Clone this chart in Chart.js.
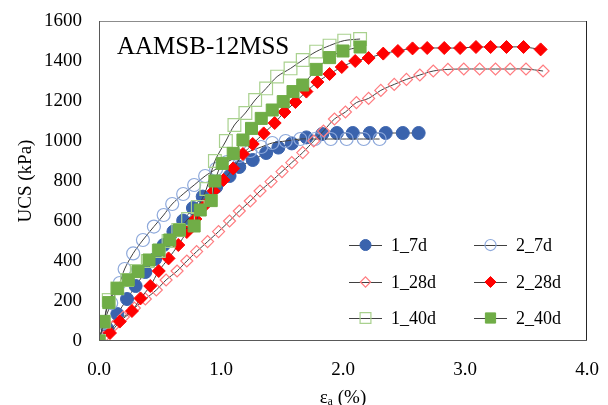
<!DOCTYPE html>
<html lang="en">
<head>
<meta charset="UTF-8">
<title>AAMSB-12MSS</title>
<script src="https://cdn.jsdelivr.net/npm/chart.js"></script>
<style>
  body { margin: 0; background: #fff; }
  canvas { display: block; }
</style>
</head>
<body>
<canvas id="ucsChart" width="608" height="405"></canvas>
<script>
// strain (%) and UCS (kPa)
const x_1_7d = [0, 0.07, 0.15, 0.23, 0.30, 0.38, 0.46, 0.53, 0.61, 0.69, 0.77, 0.85, 0.96, 1.07, 1.15, 1.26, 1.37, 1.47, 1.58, 1.70, 1.83, 1.95, 2.08, 2.22, 2.35, 2.49, 2.62];
const y_1_7d = [0, 60, 135, 210, 275, 345, 410, 480, 547, 602, 665, 722, 770, 825, 870, 905, 940, 967, 988, 1018, 1035, 1040, 1040, 1040, 1040, 1040, 1040];

const x_2_7d = [0, 0.04, 0.10, 0.17, 0.21, 0.28, 0.36, 0.45, 0.53, 0.60, 0.69, 0.78, 0.87, 0.96, 1.05, 1.15, 1.24, 1.33, 1.42, 1.53, 1.65, 1.77, 1.90, 2.03, 2.17, 2.30];
const y_2_7d = [0, 90, 190, 290, 360, 438, 505, 572, 630, 685, 735, 780, 825, 860, 895, 925, 950, 970, 990, 1000, 1010, 1010, 1010, 1010, 1010, 1010];

const x_1_28d = [0, 0.04, 0.12, 0.20, 0.29, 0.38, 0.47, 0.55, 0.64, 0.72, 0.80, 0.89, 0.98, 1.07, 1.15, 1.24, 1.32, 1.41, 1.50, 1.58, 1.67, 1.76, 1.84, 1.93, 2.02, 2.11, 2.21, 2.31, 2.42, 2.52, 2.63, 2.74, 2.86, 2.99, 3.12, 3.25, 3.37, 3.50, 3.64];
const y_1_28d = [0, 20, 75, 120, 165, 210, 255, 305, 350, 400, 447, 497, 547, 600, 650, 700, 750, 797, 847, 892, 942, 1000, 1050, 1110, 1145, 1192, 1213, 1253, 1283, 1308, 1330, 1350, 1358, 1360, 1360, 1360, 1360, 1360, 1350];

const x_2_28d = [0, 0.09, 0.17, 0.27, 0.34, 0.42, 0.49, 0.57, 0.65, 0.72, 0.79, 0.87, 0.94, 1.02, 1.10, 1.18, 1.26, 1.35, 1.44, 1.52, 1.61, 1.70, 1.79, 1.89, 1.99, 2.10, 2.21, 2.33, 2.45, 2.57, 2.69, 2.83, 2.96, 3.09, 3.21, 3.34, 3.48, 3.62];
const y_2_28d = [0, 40, 97, 150, 213, 275, 350, 413, 480, 545, 610, 680, 750, 805, 863, 935, 985, 1038, 1090, 1145, 1195, 1247, 1295, 1335, 1370, 1400, 1415, 1437, 1450, 1463, 1465, 1465, 1465, 1470, 1470, 1470, 1470, 1458];

const x_1_40d = [0, 0.04, 0.08, 0.15, 0.23, 0.31, 0.40, 0.49, 0.57, 0.65, 0.73, 0.81, 0.88, 0.95, 1.04, 1.11, 1.20, 1.28, 1.37, 1.46, 1.57, 1.67, 1.78, 1.89, 2.01, 2.14];
const y_1_40d = [0, 97, 205, 263, 305, 350, 400, 450, 500, 555, 610, 670, 760, 900, 1000, 1080, 1140, 1205, 1263, 1322, 1363, 1405, 1447, 1477, 1502, 1510];

const x_2_40d = [0, 0.04, 0.08, 0.15, 0.24, 0.32, 0.41, 0.49, 0.58, 0.66, 0.78, 0.83, 0.92, 0.95, 1.01, 1.10, 1.18, 1.25, 1.33, 1.42, 1.51, 1.59, 1.67, 1.78, 1.89, 2.00, 2.14];
const y_2_40d = [0, 97, 192, 263, 305, 347, 405, 455, 505, 555, 575, 655, 702, 800, 888, 938, 1005, 1063, 1113, 1155, 1197, 1247, 1280, 1358, 1417, 1450, 1470];

const seriesNames = ['1_7d', '2_7d', '1_28d', '2_28d', '1_40d', '2_40d'];
const xTicks = [0, 1, 2, 3, 4];
const yTicks = [0, 200, 400, 600, 800, 1000, 1200, 1400, 1600];

const serif = 'Liberation Serif, Times New Roman, serif';

function pts(xs, ys) {
    return xs.map((x, i) => ({ x: x, y: ys[i] }));
}

function series(label, xs, ys, style, order) {
    return Object.assign({
        label: label,
        data: pts(xs, ys),
        showLine: true,
        borderColor: '#404040',
        borderWidth: 1,
        tension: 0.3,
        order: order
    }, style);
}

const datasets = [
    series(seriesNames[0], x_1_7d, y_1_7d, { pointStyle: 'circle', pointRadius: 6.5, pointBackgroundColor: '#3A63AD', pointBorderColor: '#3A63AD', pointBorderWidth: 1 }, 6),
    series(seriesNames[1], x_2_7d, y_2_7d, { pointStyle: 'circle', pointRadius: 6.5, pointBackgroundColor: 'rgba(0,0,0,0)', pointBorderColor: '#8EA9DB', pointBorderWidth: 1.2 }, 5),
    series(seriesNames[2], x_1_28d, y_1_28d, { pointStyle: 'rectRot', pointRadius: 6, pointBackgroundColor: 'rgba(0,0,0,0)', pointBorderColor: '#FF7C80', pointBorderWidth: 1.2 }, 4),
    series(seriesNames[3], x_2_28d, y_2_28d, { pointStyle: 'rectRot', pointRadius: 6.5, pointBackgroundColor: '#FF0000', pointBorderColor: '#FF0000', pointBorderWidth: 1 }, 3),
    series(seriesNames[4], x_1_40d, y_1_40d, { pointStyle: 'rect', pointRadius: 9, pointBackgroundColor: 'rgba(0,0,0,0)', pointBorderColor: '#A9D18E', pointBorderWidth: 1.2 }, 2),
    series(seriesNames[5], x_2_40d, y_2_40d, { pointStyle: 'rect', pointRadius: 8.5, pointBackgroundColor: '#70AD47', pointBorderColor: '#70AD47', pointBorderWidth: 1 }, 1)
];

function drawMarker(ctx, style, r, x, y) {
    if (style === 'circle') {
        ctx.arc(x, y, r, 0, Math.PI * 2);
    } else if (style === 'rectRot') {
        ctx.moveTo(x - r, y);
        ctx.lineTo(x, y - r);
        ctx.lineTo(x + r, y);
        ctx.lineTo(x, y + r);
        ctx.closePath();
    } else {
        const s = r * Math.SQRT1_2;
        ctx.rect(x - s, y - s, 2 * s, 2 * s);
    }
}

// plot frame, title text and the two-column legend inside the plot
const decor = {
    id: 'decor',
    afterDraw(chart) {
        const ctx = chart.ctx;
        const a = chart.chartArea;
        ctx.save();
        ctx.lineWidth = 1;
        ctx.strokeStyle = '#8c8c8c';
        ctx.beginPath();
        ctx.moveTo(a.left, a.top + 0.5);
        ctx.lineTo(a.right, a.top + 0.5);
        ctx.stroke();
        ctx.strokeStyle = '#262626';
        ctx.beginPath();
        ctx.moveTo(a.right - 0.5, a.top);
        ctx.lineTo(a.right - 0.5, a.bottom);
        ctx.stroke();
        ctx.strokeStyle = '#595959';
        ctx.beginPath();
        ctx.moveTo(a.left + 0.5, a.top);
        ctx.lineTo(a.left + 0.5, a.bottom - 0.5);
        ctx.lineTo(a.right, a.bottom - 0.5);
        ctx.stroke();

        ctx.fillStyle = '#000';
        ctx.font = '25px ' + serif;
        ctx.textBaseline = 'alphabetic';
        ctx.textAlign = 'left';
        ctx.fillText('AAMSB-12MSS', 117, 54);

        const cols = [349, 474];
        const rows = [245, 282, 318];
        chart.data.datasets.forEach((ds, i) => {
            const x0 = cols[i % 2];
            const y = rows[Math.floor(i / 2)];
            ctx.strokeStyle = ds.borderColor;
            ctx.lineWidth = 1;
            ctx.beginPath();
            ctx.moveTo(x0, y + 0.5);
            ctx.lineTo(x0 + 33, y + 0.5);
            ctx.stroke();
            ctx.fillStyle = ds.pointBackgroundColor;
            ctx.strokeStyle = ds.pointBorderColor;
            ctx.lineWidth = ds.pointBorderWidth;
            ctx.beginPath();
            drawMarker(ctx, ds.pointStyle, ds.pointRadius * 0.85, x0 + 16.5, y);
            ctx.fill();
            ctx.stroke();
            ctx.fillStyle = '#000';
            ctx.font = '18px ' + serif;
            ctx.textBaseline = 'middle';
            ctx.fillText(ds.label, x0 + 42, y + 1);
        });
        ctx.restore();
    }
};

new Chart(document.getElementById('ucsChart').getContext('2d'), {
    type: 'scatter',
    data: { datasets: datasets },
    options: {
        responsive: false,
        animation: false,
        layout: { padding: { top: 21, right: 21, left: 0, bottom: 0 } },
        plugins: {
            legend: { display: false },
            tooltip: { enabled: false }
        },
        scales: {
            x: {
                type: 'linear',
                min: 0,
                max: 4,
                afterBuildTicks: s => { s.ticks = xTicks.map(v => ({ value: v })); },
                afterFit: s => {
                    s.height = 64;
                    s.paddingLeft = 0;
                    s.paddingRight = 0;
                },
                grid: { display: false, drawTicks: false },
                border: { display: false },
                ticks: {
                    padding: 18,
                    color: '#000',
                    font: { family: serif, size: 19 },
                    callback: v => v.toFixed(1)
                },
                title: {
                    display: true,
                    text: 'εₐ (%)',
                    color: '#000',
                    font: { family: serif, size: 19 },
                    padding: { top: 0, bottom: -4 }
                }
            },
            y: {
                type: 'linear',
                min: 0,
                max: 1600,
                afterBuildTicks: s => { s.ticks = yTicks.map(v => ({ value: v })); },
                afterFit: s => {
                    s.width = 99;
                    s.paddingTop = 0;
                    s.paddingBottom = 0;
                },
                grid: { display: false, drawTicks: false },
                border: { display: false },
                ticks: {
                    padding: 17,
                    color: '#000',
                    font: { family: serif, size: 19 },
                    callback: v => String(v)
                },
                title: {
                    display: true,
                    text: 'UCS (kPa)',
                    color: '#000',
                    font: { family: serif, size: 19 },
                    padding: { top: 15, bottom: 0 }
                }
            }
        }
    },
    plugins: [decor]
});
</script>
</body>
</html>
